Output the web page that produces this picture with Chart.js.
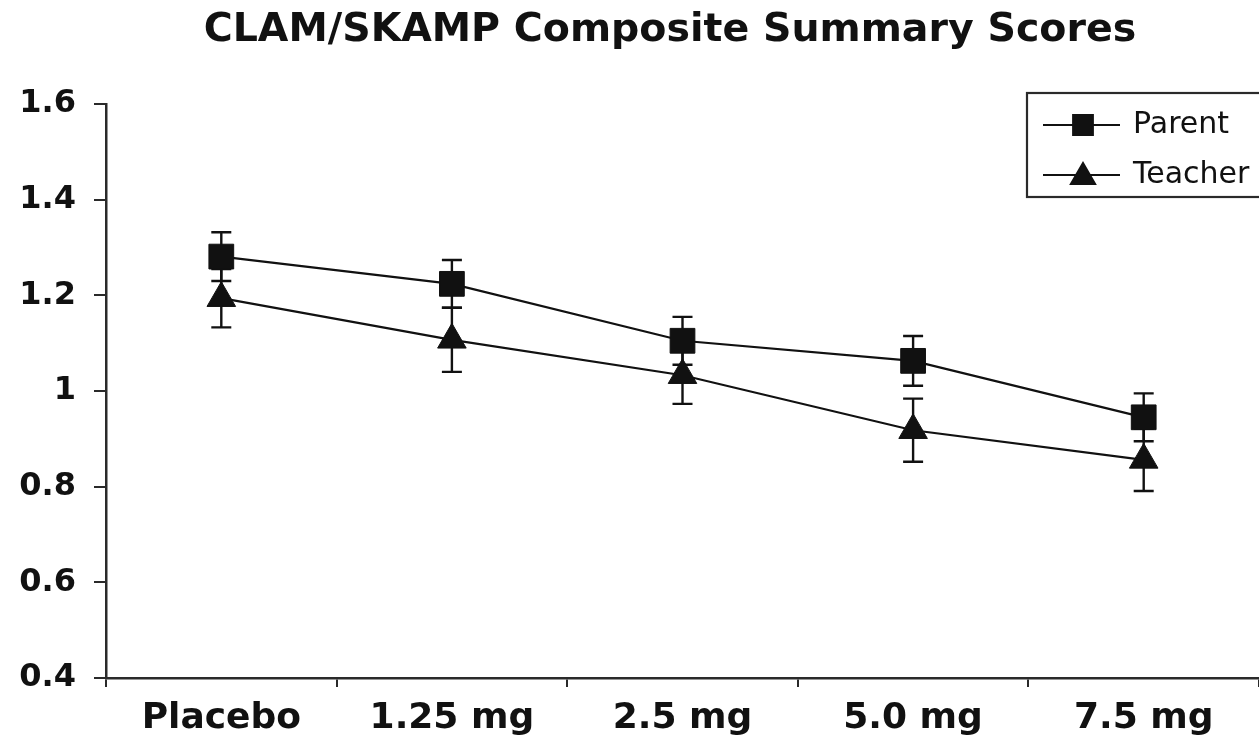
<!DOCTYPE html>
<html>
<head>
<meta charset="utf-8">
<script src="https://cdn.jsdelivr.net/npm/chart.js@4/dist/chart.umd.min.js"></script>
<style>
  html, body { margin: 0; padding: 0; background: #fff; }
  #wrap { width: 1259px; height: 746px; position: relative; }
</style>
</head>
<body>
<div id="wrap"><canvas id="c" width="1259" height="746"></canvas></div>
<script>
const categories = ['Placebo', '1.25 mg', '2.5 mg', '5.0 mg', '7.5 mg'];
const parentMeans = [1.281, 1.224, 1.105, 1.063, 0.945];
const parentErr = [0.051, 0.050, 0.050, 0.052, 0.050];
const teacherMeans = [1.194, 1.107, 1.033, 0.918, 0.856];
const teacherErr = [0.061, 0.067, 0.060, 0.066, 0.065];
const yTickLabels = ['0.4', '0.6', '0.8', '1', '1.2', '1.4', '1.6'];
const seriesNames = ['Parent', 'Teacher'];
const chartTitle = 'CLAM/SKAMP Composite Summary Scores';

const INK = '#111';
const AXIS = '#2a2a2a';
const BOLD = 'DejaVu Sans';

const errorBarPlugin = {
  id: 'errorBars',
  beforeDatasetsDraw(chart) {
    const ctx = chart.ctx;
    const y = chart.scales.y;
    chart.data.datasets.forEach((ds, di) => {
      const meta = chart.getDatasetMeta(di);
      meta.data.forEach((pt, i) => {
        const e = ds.errors[i];
        const v = ds.data[i];
        const yt = y.getPixelForValue(v + e);
        const yb = y.getPixelForValue(v - e);
        ctx.save();
        ctx.strokeStyle = INK;
        ctx.lineWidth = 2.4;
        ctx.beginPath();
        ctx.moveTo(pt.x, yt); ctx.lineTo(pt.x, yb);
        ctx.moveTo(pt.x - 10, yt); ctx.lineTo(pt.x + 10, yt);
        ctx.moveTo(pt.x - 10, yb); ctx.lineTo(pt.x + 10, yb);
        ctx.stroke();
        ctx.restore();
      });
    });
  }
};

const titlePlugin = {
  id: 'centeredTitle',
  afterDraw(chart) {
    const ctx = chart.ctx;
    ctx.save();
    ctx.fillStyle = INK;
    ctx.font = 'bold 39.5px "DejaVu Sans"';
    ctx.textAlign = 'center';
    ctx.textBaseline = 'middle';
    ctx.fillText(chartTitle, 670, 31);
    ctx.restore();
  }
};

const boxLegendPlugin = {
  id: 'boxLegend',
  afterDraw(chart) {
    const ctx = chart.ctx;
    const left = 1027, top = 93, bottom = 197, right = 1264;
    ctx.save();
    ctx.strokeStyle = AXIS;
    ctx.lineWidth = 2.2;
    ctx.strokeRect(left, top, right - left, bottom - top);
    const rows = [125, 175];
    chart.data.datasets.forEach((ds, i) => {
      const yy = rows[i];
      ctx.strokeStyle = INK;
      ctx.lineWidth = 2;
      ctx.beginPath();
      ctx.moveTo(1043, yy); ctx.lineTo(1120, yy);
      ctx.stroke();
      ctx.fillStyle = INK;
      Chart.helpers.drawPoint(ctx, {
        pointStyle: ds.pointStyle,
        radius: 14,
        rotation: 0,
        borderWidth: 1
      }, 1083, ds.pointStyle === 'triangle' ? yy + 2 : yy);
      ctx.fillStyle = INK;
      ctx.font = '30px "DejaVu Sans"';
      ctx.textBaseline = 'middle';
      ctx.textAlign = 'left';
      ctx.fillText(ds.label, 1133, yy);
    });
    ctx.restore();
  }
};

new Chart(document.getElementById('c'), {
  type: 'line',
  data: {
    labels: categories,
    datasets: [
      {
        label: seriesNames[0],
        data: parentMeans,
        errors: parentErr,
        borderColor: INK,
        borderWidth: 2.2,
        backgroundColor: INK,
        pointStyle: 'rect',
        pointRadius: 17.5,
        pointBackgroundColor: INK,
        pointBorderColor: INK,
        pointBorderWidth: 1,
        tension: 0
      },
      {
        label: seriesNames[1],
        data: teacherMeans,
        errors: teacherErr,
        borderColor: INK,
        borderWidth: 2.2,
        backgroundColor: INK,
        pointStyle: 'triangle',
        pointRadius: 16.5,
        pointBackgroundColor: INK,
        pointBorderColor: INK,
        pointBorderWidth: 1,
        tension: 0
      }
    ]
  },
  options: {
    responsive: false,
    animation: false,
    layout: { autoPadding: false, padding: { left: 0, right: -3, top: 104, bottom: 0 } },
    plugins: {
      legend: { display: false },
      tooltip: { enabled: false },
      title: { display: false }
    },
    scales: {
      x: {
        type: 'category',
        offset: true,
        border: { display: true, color: AXIS, width: 2.5 },
        grid: { display: true, offset: true, drawOnChartArea: false, drawTicks: true, tickLength: 9, color: AXIS, lineWidth: 2 },
        ticks: {
          color: INK,
          padding: 10,
          font: { family: BOLD, size: 36, weight: 'bold', lineHeight: 1.2 },
          maxRotation: 0,
          autoSkip: false
        },
        afterFit(s) { s.height = 68; s.paddingLeft = 0; s.paddingRight = 0; }
      },
      y: {
        min: 0.4,
        max: 1.6,
        border: { display: true, color: AXIS, width: 2.5 },
        grid: { display: true, drawOnChartArea: false, drawTicks: true, tickLength: 12, color: AXIS, lineWidth: 2 },
        ticks: {
          stepSize: 0.2,
          color: INK,
          padding: 18,
          font: { family: BOLD, size: 32, weight: 'bold', lineHeight: 1.2 },
          callback: (v) => yTickLabels[Math.round((v - 0.4) / 0.2)]
        },
        afterFit(s) { s.width = 106; s.paddingTop = 0; s.paddingBottom = 0; }
      }
    }
  },
  plugins: [errorBarPlugin, titlePlugin, boxLegendPlugin]
});
</script>
</body>
</html>
